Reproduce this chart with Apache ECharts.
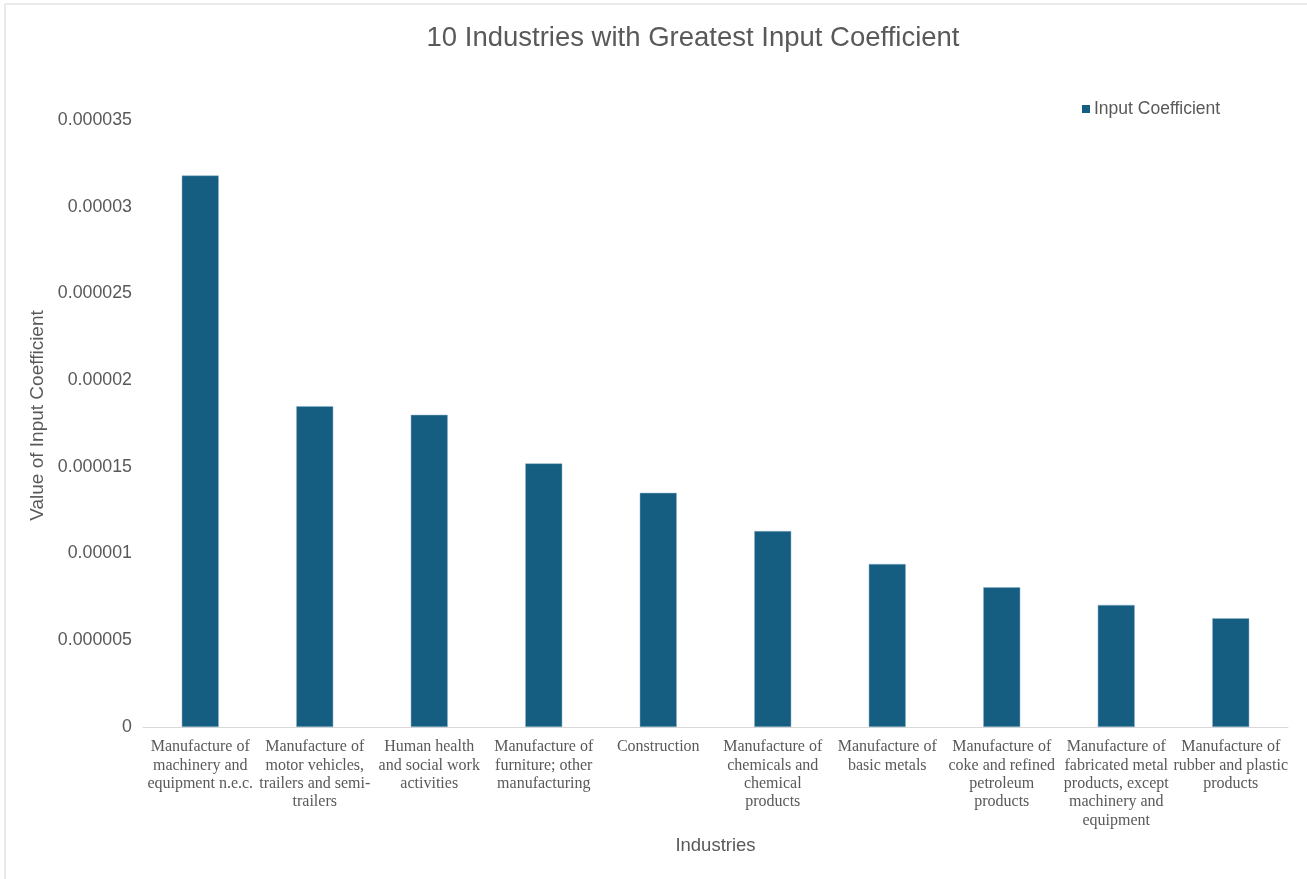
<!DOCTYPE html>
<html>
<head>
<meta charset="utf-8">
<title>10 Industries with Greatest Input Coefficient</title>
<script src="https://cdn.jsdelivr.net/npm/echarts@6/dist/echarts.min.js"></script>
<style>
  html, body { margin: 0; padding: 0; background: #fff; }
  #chart { width: 1307px; height: 879px; }
</style>
</head>
<body>
<div id="chart"></div>
<script>
// Industries ranked by input coefficient
const industries = [
  'Manufacture of\nmachinery and\nequipment n.e.c.',
  'Manufacture of\nmotor vehicles,\ntrailers and semi-\ntrailers',
  'Human health\nand social work\nactivities',
  'Manufacture of\nfurniture; other\nmanufacturing',
  'Construction',
  'Manufacture of\nchemicals and\nchemical\nproducts',
  'Manufacture of\nbasic metals',
  'Manufacture of\ncoke and refined\npetroleum\nproducts',
  'Manufacture of\nfabricated metal\nproducts, except\nmachinery and\nequipment',
  'Manufacture of\nrubber and plastic\nproducts'
];
const inputCoefficient = [
  0.0000318, 0.0000185, 0.0000180, 0.0000152, 0.0000135,
  0.0000113, 0.0000094, 0.00000806, 0.00000704, 0.00000627
];
const yTickLabels = ['0', '0.000005', '0.00001', '0.000015', '0.00002', '0.000025', '0.00003', '0.000035'];

const textColor = '#595959';
const barColor = '#165E81';
const sans = 'Liberation Sans, Arial, sans-serif';
const serif = 'Liberation Serif, Times New Roman, serif';

const chart = echarts.init(document.getElementById('chart'), null, { renderer: 'canvas' });

chart.setOption({
  backgroundColor: '#ffffff',
  animation: false,
  title: {
    text: '10 Industries with Greatest Input Coefficient',
    left: 688,
    top: 19,
    textAlign: 'center',
    textStyle: {
      fontFamily: sans,
      fontSize: 27.5,
      fontWeight: 'normal',
      color: textColor
    }
  },
  legend: {
    data: ['Input Coefficient'],
    left: 1077,
    top: 95,
    icon: 'rect',
    itemWidth: 8,
    itemHeight: 8,
    itemGap: 5,
    itemStyle: { borderWidth: 0 },
    textStyle: {
      fontFamily: sans,
      fontSize: 17.5,
      color: textColor,
      padding: [0, 0, 0, -1]
    }
  },
  graphic: [
    { type: 'line', shape: { x1: 5, y1: 4, x2: 1307, y2: 4 }, style: { stroke: '#e3e3e3', lineWidth: 1.5 } },
    { type: 'line', shape: { x1: 5, y1: 4, x2: 5, y2: 879 }, style: { stroke: '#e3e3e3', lineWidth: 1.5 } }
  ],
  grid: {
    left: 143,
    right: 19,
    top: 120,
    bottom: 152,
    containLabel: false
  },
  xAxis: {
    type: 'category',
    data: industries,
    name: 'Industries',
    nameLocation: 'middle',
    nameGap: 109,
    nameTextStyle: {
      fontFamily: sans,
      fontSize: 18.5,
      color: textColor
    },
    axisLine: { show: true, lineStyle: { color: '#d9d9d9', width: 1 } },
    axisTick: { show: false },
    axisLabel: {
      interval: 0,
      margin: 11,
      fontFamily: serif,
      fontSize: 16,
      lineHeight: 18.3,
      color: textColor,
      align: 'center'
    }
  },
  yAxis: {
    type: 'value',
    min: 0,
    max: 0.000035,
    interval: 0.000005,
    name: 'Value of Input Coefficient',
    nameLocation: 'middle',
    nameRotate: 90,
    nameGap: 90,
    nameTextStyle: {
      fontFamily: sans,
      fontSize: 19,
      color: textColor,
      padding: [0, 0, 0, 16]
    },
    axisLine: { show: false },
    axisTick: { show: false },
    splitLine: { show: false },
    axisLabel: {
      margin: 11,
      fontFamily: sans,
      fontSize: 17.8,
      color: textColor,
      formatter: function (v) {
        const i = Math.round(v / 0.000005);
        return yTickLabels[i] !== undefined ? yTickLabels[i] : '';
      }
    }
  },
  series: [{
    name: 'Input Coefficient',
    type: 'bar',
    data: inputCoefficient,
    barWidth: 37,
    itemStyle: { color: barColor, borderColor: '#8fb3c8', borderWidth: 0.5 }
  }]
});
</script>
</body>
</html>
